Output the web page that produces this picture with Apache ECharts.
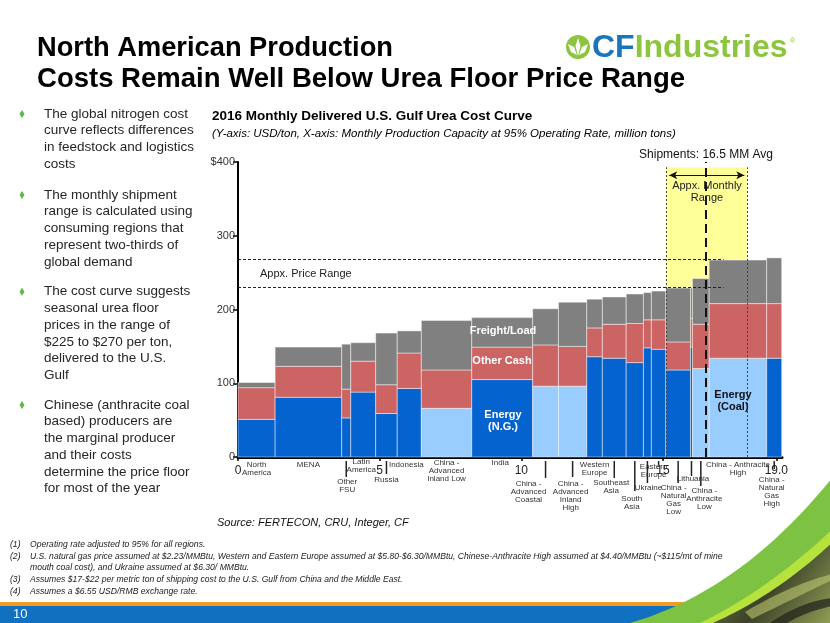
<!DOCTYPE html>
<html><head><meta charset="utf-8">
<script src="https://cdn.jsdelivr.net/npm/echarts@6/dist/echarts.min.js"></script>
<style>html,body{margin:0;padding:0;background:#fff}#c{width:830px;height:623px}</style>
</head><body><div id="c"></div>
<script>
// ---------------- DATA ----------------
const regionLabels = ['North\nAmerica','MENA','Other\nFSU','Latin\nAmerica','Russia','Indonesia',
  'China -\nAdvanced\nInland Low','India','China -\nAdvanced\nCoastal','China -\nAdvanced\nInland\nHigh',
  'Western\nEurope','Southeast\nAsia','South\nAsia','Ukraine','Eastern\nEurope','China -\nNatural\nGas\nLow',
  'Lithuania','China -\nAnthracite\nLow','China - Anthracite\nHigh','China -\nNatural\nGas\nHigh'];
// monthly capacity, million tons (bar widths)
const capacity = [1.31,2.35,0.32,0.88,0.76,0.85,1.78,2.15,0.91,1.00,0.55,0.84,0.61,0.28,0.51,0.87,0.07,0.59,2.03,0.53];
// cost components, USD/ton
const energyCost    = [51,81,53,88,59,93,66,105,96,96,136,134,128,148,146,118,149,120,134,134];
const otherCashCost = [43,42,39,42,39,48,52,44,56,54,39,46,53,38,40,38,39,60,74,74];
const freightCost   = [7,26,61,25,70,30,67,40,49,60,39,37,40,37,39,73,41,62,59,62];
const energySource  = ['gas','gas','gas','gas','gas','gas','coal','gas','coal','coal','gas','gas','gas','gas','gas','gas','gas','coal','coal','gas'];
const xTickValues = [0,5,10,15,19];
const priceRange = [230,268];
const priceRangeEnd = 17.14;
const shipmentsAvg = 16.5;
const monthlyRange = [15.11,17.96];
const monthlyRangeTop = 393;
const arrowLevel = 382;

// ---------------- LAYOUT / STYLE ----------------
// per-label offsets: [dx from bar centre, dy of first line centre below axis, leader end below axis (0 = none)]
const labelLayout = [[0,8,0],[0,8,0],[1,25,20],[-2,5,0],[0,23,17],[-3,8,0],[0,6,0],[-2,6,0],[-17,27,21],[-2,26.5,20],
  [0,8,0],[-3,26,21],[-3,42,34],[1,31,26],[-5,10,8],[-4.5,31,26],[1.5,22,19],[3.5,34,29],[0,8,0],[-2.5,23,12]];
const COL = {gas:'#0563CF', coal:'#99CCFF', other:'#CC6464', freight:'#808080'};
const FONT = "'Liberation Sans', Arial, sans-serif";

const starts = [];
capacity.reduce((acc, w, i) => { starts[i] = acc; return acc + w; }, 0);
const barData = capacity.map((w, i) => [starts[i], starts[i] + w, energyCost[i], otherCashCost[i], freightCost[i], energySource[i] === 'coal' ? 1 : 0, i]);

const mctx = document.createElement('canvas').getContext('2d');
function fitScale(text, font, target) { mctx.font = font; return target / mctx.measureText(text).width; }
function quadPts(x0, y0, cx, cy, x1, y1, n) {
  const pts = [];
  for (let k = 0; k <= n; k++) { const t = k / n, a = (1 - t) * (1 - t), b = 2 * t * (1 - t), c = t * t;
    pts.push([a * x0 + b * cx + c * x1, a * y0 + b * cy + c * y1]); }
  return pts;
}

const chart = echarts.init(document.getElementById('c'), null, {renderer: 'canvas'});

const bullets = [
  ['The global nitrogen cost','curve reflects differences','in feedstock and logistics','costs'],
  ['The monthly shipment','range is calculated using','consuming regions that','represent two-thirds of','global demand'],
  ['The cost curve suggests','seasonal urea floor','prices in the range of','$225 to $270 per ton,','delivered to the U.S.','Gulf'],
  ['Chinese (anthracite coal','based) producers are','the marginal producer','and their costs','determine the price floor','for most of the year']
];
const bulletY = [114, 195, 291.7, 405];
const graphics = [];
bullets.forEach((b, i) => {
  const y = bulletY[i];
  graphics.push({type:'polygon', shape:{points:[[22,y-4],[24.5,y],[22,y+4],[19.5,y]]}, style:{fill:'#5DB946'}});
  graphics.push({type:'text', x:44, y:y-8.3, style:{text:b.join('\n'), font:'13.5px ' + FONT, lineHeight:16.7, fill:'#262626', verticalAlign:'top'}});
});
// Title (narrow bold)
const TF = 'bold 28px ' + FONT;
const t1 = 'North American Production', t2 = 'Costs Remain Well Below Urea Floor Price Range';
graphics.push({type:'text', x:37, y:48, scaleX: fitScale(t1, TF, 356), style:{text:t1, font:TF, fill:'#000', verticalAlign:'middle'}});
graphics.push({type:'text', x:37, y:79, scaleX: fitScale(t2, TF, 648), style:{text:t2, font:TF, fill:'#000', verticalAlign:'middle'}});
// Logo
graphics.push({type:'circle', shape:{cx:578, cy:47, r:12}, style:{fill:'#8CC63F'}});
graphics.push({type:'polygon', shape:{points:[[578,38],[580.5,46],[578,56],[575.5,46]]}, style:{fill:'#fff'}});
graphics.push({type:'polygon', shape:{points:[[568,44],[574,47],[577,55],[571,52]]}, style:{fill:'#fff'}});
graphics.push({type:'polygon', shape:{points:[[588,44],[582,47],[579,55],[585,52]]}, style:{fill:'#fff'}});
graphics.push({type:'text', x:592, y:48, style:{text:'{a|CF}{b|Industries}', verticalAlign:'middle',
  rich:{a:{font:'bold 32px ' + FONT, fill:'#1B75BC'}, b:{font:'bold 32px ' + FONT, fill:'#8CC63F'}}}});
graphics.push({type:'text', x:790, y:38, style:{text:'®', font:'7px ' + FONT, fill:'#8CC63F'}});
// Chart titles
graphics.push({type:'text', x:212, y:116, style:{text:'2016 Monthly Delivered U.S. Gulf Urea Cost Curve', font:'bold 13.5px ' + FONT, fill:'#000', verticalAlign:'middle'}});
graphics.push({type:'text', x:212, y:134, style:{text:'(Y-axis: USD/ton, X-axis: Monthly Production Capacity at 95% Operating Rate, million tons)', font:'italic 11.5px ' + FONT, fill:'#000', verticalAlign:'middle'}});
// In-chart annotations
graphics.push({type:'text', x:260, y:274, style:{text:'Appx. Price Range', font:'11px ' + FONT, fill:'#222', verticalAlign:'middle'}, z:100});
graphics.push({type:'text', x:706, y:155, style:{text:'Shipments: 16.5 MM Avg', font:'12px ' + FONT, fill:'#111', align:'center', verticalAlign:'middle'}, z:100});
graphics.push({type:'text', x:707, y:192, style:{text:'Appx. Monthly\nRange', font:'11px ' + FONT, lineHeight:12.5, fill:'#222', align:'center', verticalAlign:'middle'}, z:100});
graphics.push({type:'text', x:503, y:331, style:{text:'Freight/Load', font:'bold 11px ' + FONT, fill:'#fff', align:'center', verticalAlign:'middle'}, z:100});
graphics.push({type:'text', x:502, y:361, style:{text:'Other Cash', font:'bold 11px ' + FONT, fill:'#fff', align:'center', verticalAlign:'middle'}, z:100});
graphics.push({type:'text', x:503, y:421, style:{text:'Energy\n(N.G.)', font:'bold 11px ' + FONT, lineHeight:12.5, fill:'#fff', align:'center', verticalAlign:'middle'}, z:100});
graphics.push({type:'text', x:733, y:401, style:{text:'Energy\n(Coal)', font:'bold 11px ' + FONT, lineHeight:12.5, fill:'#111', align:'center', verticalAlign:'middle'}, z:100});
// Source and footnotes
graphics.push({type:'text', x:217, y:523, style:{text:'Source: FERTECON, CRU, Integer, CF', font:'italic 11px ' + FONT, fill:'#111', verticalAlign:'middle'}});
const notes = [['(1)','Operating rate adjusted to 95% for all regions.',545],
  ['(2)','U.S. natural gas price assumed at $2.23/MMBtu, Western and Eastern Europe assumed at $5.80-$6.30/MMBtu, Chinese-Anthracite High assumed at $4.40/MMBtu (~$115/mt of mine',557],
  ['','mouth coal cost), and Ukraine assumed at $6.30/ MMBtu.',568],
  ['(3)','Assumes $17-$22 per metric ton of shipping cost to the U.S. Gulf from China and the Middle East.',580],
  ['(4)','Assumes a $6.55 USD/RMB exchange rate.',592]];
notes.forEach(n => {
  if (n[0]) graphics.push({type:'text', x:10, y:n[2], style:{text:n[0], font:'italic 8.6px ' + FONT, fill:'#222', verticalAlign:'middle'}});
  graphics.push({type:'text', x:30, y:n[2], style:{text:n[1], font:'italic 8.6px ' + FONT, fill:'#222', verticalAlign:'middle'}});
});
// Bottom band and swoosh
graphics.push({type:'rect', shape:{x:0, y:602, width:830, height:4}, style:{fill:'#F39B1F'}});
graphics.push({type:'rect', shape:{x:0, y:606, width:830, height:17}, style:{fill:'#1170BF'}});
graphics.push({type:'text', x:13, y:614.5, style:{text:'10', font:'13px ' + FONT, fill:'#fff', verticalAlign:'middle'}});
graphics.push({type:'polygon', shape:{points: quadPts(630,623,745,590,840,468,24).concat([[840,623]])}, style:{fill:'#7DC242'}});
graphics.push({type:'polygon', shape:{points: quadPts(700,623,772,588,840,522,24).concat([[840,623]])}, style:{fill:'#B5E23C'}});
graphics.push({type:'polygon', shape:{points: quadPts(713,623,782,592,840,535,24).concat([[840,623]])},
  style:{fill:new echarts.graphic.LinearGradient(0,0,1,1,[{offset:0,color:'#7d8a44'},{offset:0.5,color:'#3c4129'},{offset:1,color:'#9aa85a'}])}});
graphics.push({type:'polygon', shape:{points: quadPts(745,612,790,585,832,574,12).concat(quadPts(832,580,795,598,752,619,12))}, style:{fill:'rgba(190,200,110,0.6)'}});
graphics.push({type:'polygon', shape:{points: quadPts(770,623,800,602,832,598,12).concat(quadPts(832,606,805,612,787,623,12))}, style:{fill:'rgba(30,32,25,0.7)'}});

const option = {
  animation: false,
  grid: {left: 238, right: 48, top: 162, bottom: 166, containLabel: false},
  xAxis: {
    type: 'value', min: 0, max: 19.2,
    splitLine: {show: false},
    axisLine: {show: true, onZero: true, lineStyle: {color: '#000', width: 3}},
    axisTick: {show: true, customValues: xTickValues, length: 4, lineStyle: {color: '#000', width: 1.5}},
    axisLabel: {show: true, customValues: xTickValues, formatter: v => v === 19 ? '19.0' : String(v), fontSize: 12, color: '#222', margin: 8, fontFamily: FONT}
  },
  yAxis: {
    type: 'value', min: 0, max: 400, interval: 100,
    splitLine: {show: false},
    axisLine: {show: true, lineStyle: {color: '#000', width: 2}},
    axisTick: {show: true, length: 5, lineStyle: {color: '#000', width: 1.5}},
    axisLabel: {formatter: v => v === 400 ? '$400' : String(v), fontSize: 11, color: '#333', margin: 3, fontFamily: FONT}
  },
  graphic: {elements: graphics},
  series: [
    {
      type: 'line', data: [], z: 1, silent: true,
      markArea: {silent: true, itemStyle: {color: '#FFFF99'},
        data: [[{coord: [monthlyRange[0], monthlyRangeTop]}, {coord: [monthlyRange[1], 0]}]]}
    },
    {
      type: 'custom', z: 2, silent: true, data: barData,
      encode: {x: [0, 1], y: 2},
      renderItem: (params, api) => {
        const x0 = api.value(0), x1 = api.value(1);
        const e = api.value(2), o = api.value(3), f = api.value(4), coal = api.value(5);
        const segs = [[0, e, coal ? COL.coal : COL.gas], [e, e + o, COL.other], [e + o, e + o + f, COL.freight]];
        return {type: 'group', children: segs.map(([a, b, c]) => {
          const p0 = api.coord([x0, b]), p1 = api.coord([x1, a]);
          return {type: 'rect', shape: {x: p0[0], y: p0[1], width: p1[0] - p0[0], height: p1[1] - p0[1]},
            style: {fill: c, stroke: 'rgba(255,255,255,0.45)', lineWidth: 1}};
        })};
      }
    },
    {
      type: 'custom', z: 4, silent: true, data: barData, clip: false,
      encode: {x: [0, 1], y: 2},
      renderItem: (params, api) => {
        const i = api.value(6);
        const cx = (api.value(0) + api.value(1)) / 2;
        const p = api.coord([cx, 0]);
        const lay = labelLayout[i];
        const axisY = p[1];
        const children = [];
        if (lay[2]) children.push({type: 'line', shape: {x1: p[0], y1: axisY + 4, x2: p[0], y2: axisY + lay[2]}, style: {stroke: '#222', lineWidth: 1.5}});
        children.push({type: 'text', x: p[0] + lay[0], y: axisY + lay[1] - 4,
          style: {text: regionLabels[i], font: '8px ' + FONT, lineHeight: 8, fill: '#333', align: 'center', verticalAlign: 'top'}});
        return {type: 'group', children};
      }
    },
    {
      type: 'line', data: [], z: 5, silent: true,
      markLine: {silent: true, symbol: 'none', label: {show: false}, animation: false,
        data: [
          [{coord: [0, priceRange[1]], lineStyle: {color: '#222', width: 1, type: [3, 2]}}, {coord: [priceRangeEnd, priceRange[1]]}],
          [{coord: [0, priceRange[0]], lineStyle: {color: '#222', width: 1, type: [3, 2]}}, {coord: [priceRangeEnd, priceRange[0]]}],
          [{coord: [monthlyRange[0], 0], lineStyle: {color: '#444', width: 1, type: [2, 2]}}, {coord: [monthlyRange[0], monthlyRangeTop]}],
          [{coord: [monthlyRange[1], 0], lineStyle: {color: '#444', width: 1, type: [2, 2]}}, {coord: [monthlyRange[1], monthlyRangeTop]}],
          [{coord: [shipmentsAvg, 0], lineStyle: {color: '#111', width: 2, type: [9, 5]}}, {coord: [shipmentsAvg, 400]}]
        ]}
    },
    {
      type: 'line', data: [], z: 5, silent: true,
      markLine: {silent: true, symbol: ['arrow', 'arrow'], symbolSize: [6, 8], label: {show: false},
        lineStyle: {color: '#111', width: 1, type: 'solid'},
        data: [[{coord: [monthlyRange[0] + 0.11, arrowLevel]}, {coord: [monthlyRange[1] - 0.09, arrowLevel]}]]}
    }
  ]
};
chart.setOption(option);
</script>
</body></html>
